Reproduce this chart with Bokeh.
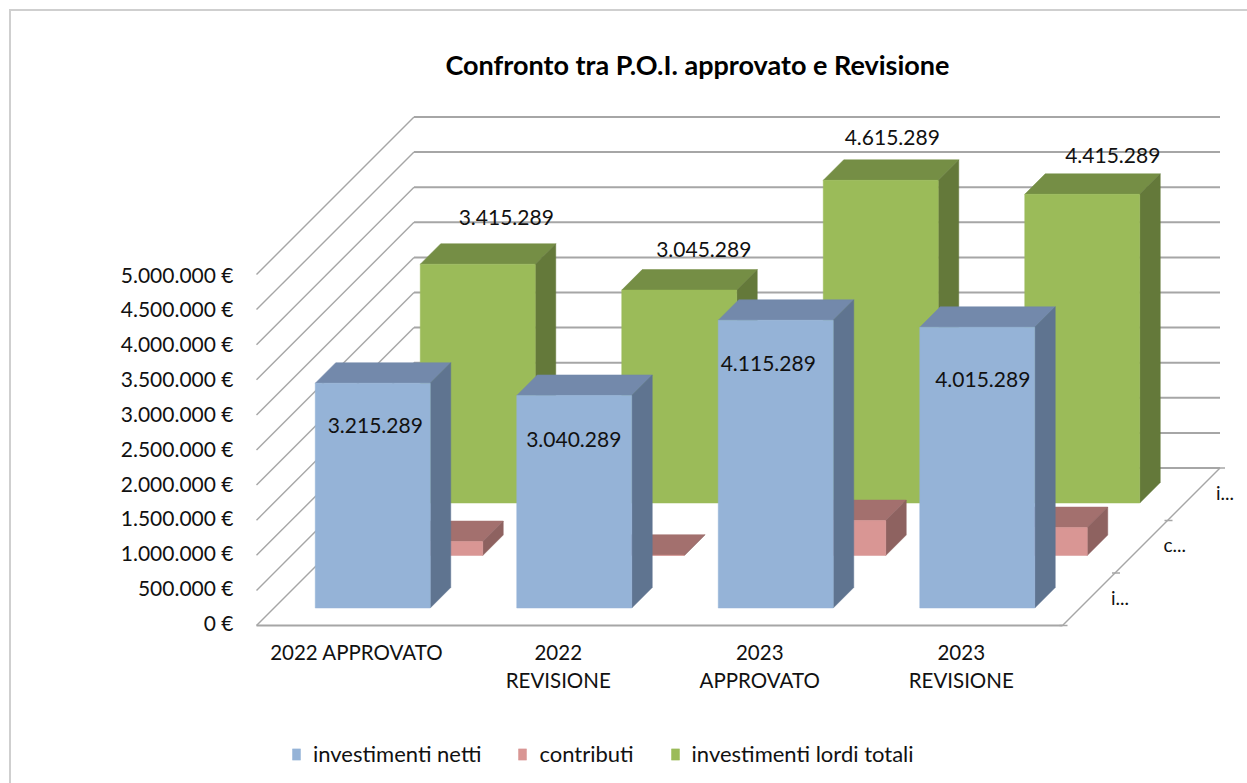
from bokeh.plotting import figure
from bokeh.embed import file_html
from bokeh.resources import INLINE
from bokeh.core.properties import value
from bokeh.models import Range1d, LinearAxis, FixedTicker, Legend, LegendItem, Title

# ---------- data ----------
categories = ["2022 APPROVATO", "2022\nREVISIONE", "2023\nAPPROVATO", "2023\nREVISIONE"]
investimenti_netti = [3215289, 3040289, 4115289, 4015289]
contributi = [200000, 5000, 500000, 400000]
investimenti_lordi = [3415289, 3045289, 4615289, 4415289]
series_names = ["investimenti netti", "contributi", "investimenti lordi totali"]
y_ticks = [0, 500000, 1000000, 1500000, 2000000, 2500000, 3000000, 3500000, 4000000, 4500000, 5000000]
y_tick_labels = ["0 €", "500.000 €", "1.000.000 €", "1.500.000 €", "2.000.000 €", "2.500.000 €",
                 "3.000.000 €", "3.500.000 €", "4.000.000 €", "4.500.000 €", "5.000.000 €"]
net_labels = ["3.215.289", "3.040.289", "4.115.289", "4.015.289"]
gross_labels = ["3.415.289", "3.045.289", "4.615.289", "4.415.289"]
depth_labels = ["i...", "c...", "i..."]

# ---------- layout / style ----------
FONT = "Lato"
W, H = 1247, 783
FL, FR, FT, FB = 250, 1245, 84, 783      # frame edges on the page
FLOOR_Y = 625
PX_PER_CAT = 201.5
CAT0_X = 356.25
PX_PER_EUR = 351.0 / 5e6
BAR_SCALE = 0.996                        # bars render a hair shorter than the wall scale
BAR_X_NUDGE = -1.5
SLOT = 52.5
DEPTH_MARGIN = 17.5
BAR_DEPTH = 20.5
BAR_W = 115.0
colors = {
    0: ("#95B3D7", "#7389AB", "#5F7490"),
    1: ("#D99694", "#A3706E", "#8E6260"),
    2: ("#9BBB59", "#758E45", "#64793A"),
}
GRID = "#A6A6A6"

px_x = lambda px: px / PX_PER_CAT
px_y = lambda px: px / PX_PER_EUR

p = figure(width=W, height=H, output_backend="svg", toolbar_location=None,
           x_range=Range1d((FL - CAT0_X) / PX_PER_CAT, (FR - CAT0_X) / PX_PER_CAT),
           y_range=Range1d(-(FB - FLOOR_Y) / PX_PER_EUR, (FLOOR_Y - FT) / PX_PER_EUR),
           x_axis_location=None, y_axis_location=None,
           min_border_left=FL, min_border_right=W - FR,
           min_border_top=FT, min_border_bottom=0)
p.outline_line_color = None
p.xgrid.visible = False
p.ygrid.visible = False
p.border_fill_alpha = 0
p.background_fill_alpha = 0
# page border (top and left only are in view)
p.styles = {
    "background-image": "linear-gradient(#CFCFCF,#CFCFCF),linear-gradient(#CFCFCF,#CFCFCF)",
    "background-size": "100% 2px,2px 100%",
    "background-position": "9px 9px,9px 9px",
    "background-repeat": "no-repeat",
}

# value axis: labels sit on their own slightly tighter scale, as in the source
LAB0, LAB_PER_EUR = 622, 348.5 / 5e6
p.extra_y_ranges = {"labels": Range1d(-(FB - LAB0) / LAB_PER_EUR, (LAB0 - FT) / LAB_PER_EUR)}
yax = LinearAxis(y_range_name="labels", ticker=FixedTicker(ticks=y_ticks),
                 major_label_overrides=dict(zip(y_ticks, y_tick_labels)))
yax.axis_line_color = None
yax.major_tick_line_color = None
yax.minor_tick_line_color = None
yax.major_label_standoff = 11
yax.major_label_text_font = FONT
yax.major_label_text_font_size = "21px"
yax.major_label_text_color = "#111111"
p.add_layout(yax, "left")

xax = LinearAxis(ticker=FixedTicker(ticks=[0, 1, 2, 3]), fixed_location=px_y(-5),
                 major_label_overrides=dict(zip([0, 1, 2, 3], categories)))
xax.axis_line_color = None
xax.major_tick_line_color = None
xax.minor_tick_line_color = None
xax.major_label_standoff = 3
xax.major_label_text_font = FONT
xax.major_label_text_font_size = "20.5px"
xax.major_label_text_line_height = 1.19
xax.major_label_text_color = "#111111"
p.add_layout(xax, "below")

# title
p.title = Title(text="Confronto tra P.O.I. approvato e Revisione", text_font=FONT,
                text_font_size="27px", text_font_style="bold", text_color="#000000",
                align="left", offset=195, standoff=7)

# walls and floor
x_left = (256 - CAT0_X) / PX_PER_CAT
x_right = (1062 - CAT0_X) / PX_PER_CAT
total_depth = 3 * SLOT
dx = px_x(total_depth)
dy = px_y(total_depth)
for t in y_ticks:
    p.line([x_left + dx, x_right + dx], [t + dy, t + dy], line_color=GRID, line_width=2)
    p.line([x_left, x_left + dx], [t, t + dy], line_color=GRID, line_width=1.4)
p.line([x_left, x_right], [0, 0], line_color=GRID, line_width=2)
p.line([x_right, x_right + dx], [0, dy], line_color=GRID, line_width=1.4)
for k in range(4):
    xk = x_right + px_x(SLOT * k)
    yk = px_y(SLOT * k)
    p.line([xk - px_x(3), xk + px_x(5)], [yk, yk], line_color=GRID, line_width=1.4)

# bars, back to front
series = [investimenti_netti, contributi, investimenti_lordi]
legend_items = {}
for s in (2, 1, 0):
    front, top, side = colors[s]
    shift = DEPTH_MARGIN + SLOT * s
    ox, oy = px_x(shift + BAR_X_NUDGE), px_y(shift)
    bx, by = px_x(BAR_DEPTH), px_y(BAR_DEPTH)
    hw = px_x(BAR_W / 2)
    vals = series[s]
    cx = [i + ox for i in range(4)]
    tops = [oy + v * BAR_SCALE for v in vals]
    p.patches([[c - hw, c + hw, c + hw + bx, c - hw + bx] for c in cx],
              [[t, t, t + by, t + by] for t in tops], fill_color=top, line_color=top, line_width=0.5)
    p.patches([[c + hw, c + hw + bx, c + hw + bx, c + hw] for c in cx],
              [[oy, oy + by, t + by, t] for t in tops], fill_color=side, line_color=side, line_width=0.5)
    r = p.quad(left=[c - hw for c in cx], right=[c + hw for c in cx], bottom=[oy] * 4, top=tops,
               fill_color=front, line_color=front, line_width=0.5)
    legend_items[s] = r

# value labels, nudged where the source chart placed them (px from bar-front centre / top)
gross_dx = [27, 23, 10, 29]
gross_dy = [46, 40, 42, 38]
net_dx = [1, -2, -9, 4]
net_dy = [-43, -45, -44, -53]
for labels, vals, s, ddx, ddy in ((gross_labels, investimenti_lordi, 2, gross_dx, gross_dy),
                                  (net_labels, investimenti_netti, 0, net_dx, net_dy)):
    shift = DEPTH_MARGIN + SLOT * s
    p.text(x=[i + px_x(shift + a) for i, a in enumerate(ddx)],
           y=[px_y(shift + b) + v for v, b in zip(vals, ddy)],
           text=labels, text_font=value(FONT), text_font_size=value("21px"),
           text_align="center", text_baseline="middle", text_color="#111111")

# depth axis labels
p.text(x=[x_right + px_x(DEPTH_MARGIN + SLOT * k + 31) for k in range(3)],
       y=[px_y(DEPTH_MARGIN + SLOT * k + 11) for k in range(3)],
       text=depth_labels, text_font=value(FONT), text_font_size=value("19px"),
       text_align="left", text_baseline="middle", text_color="#111111")

# legend
legend = Legend(items=[LegendItem(label=series_names[s], renderers=[legend_items[s]]) for s in range(3)],
                orientation="horizontal", location=(41, 16), background_fill_alpha=0,
                border_line_color=None, glyph_width=10, glyph_height=14, label_standoff=12,
                spacing=36, margin=0, padding=0, label_text_font=FONT,
                label_text_font_size="22px", label_text_color="#111111")
p.add_layout(legend, "center")

open("out.html", "w").write(file_html(p, INLINE))
